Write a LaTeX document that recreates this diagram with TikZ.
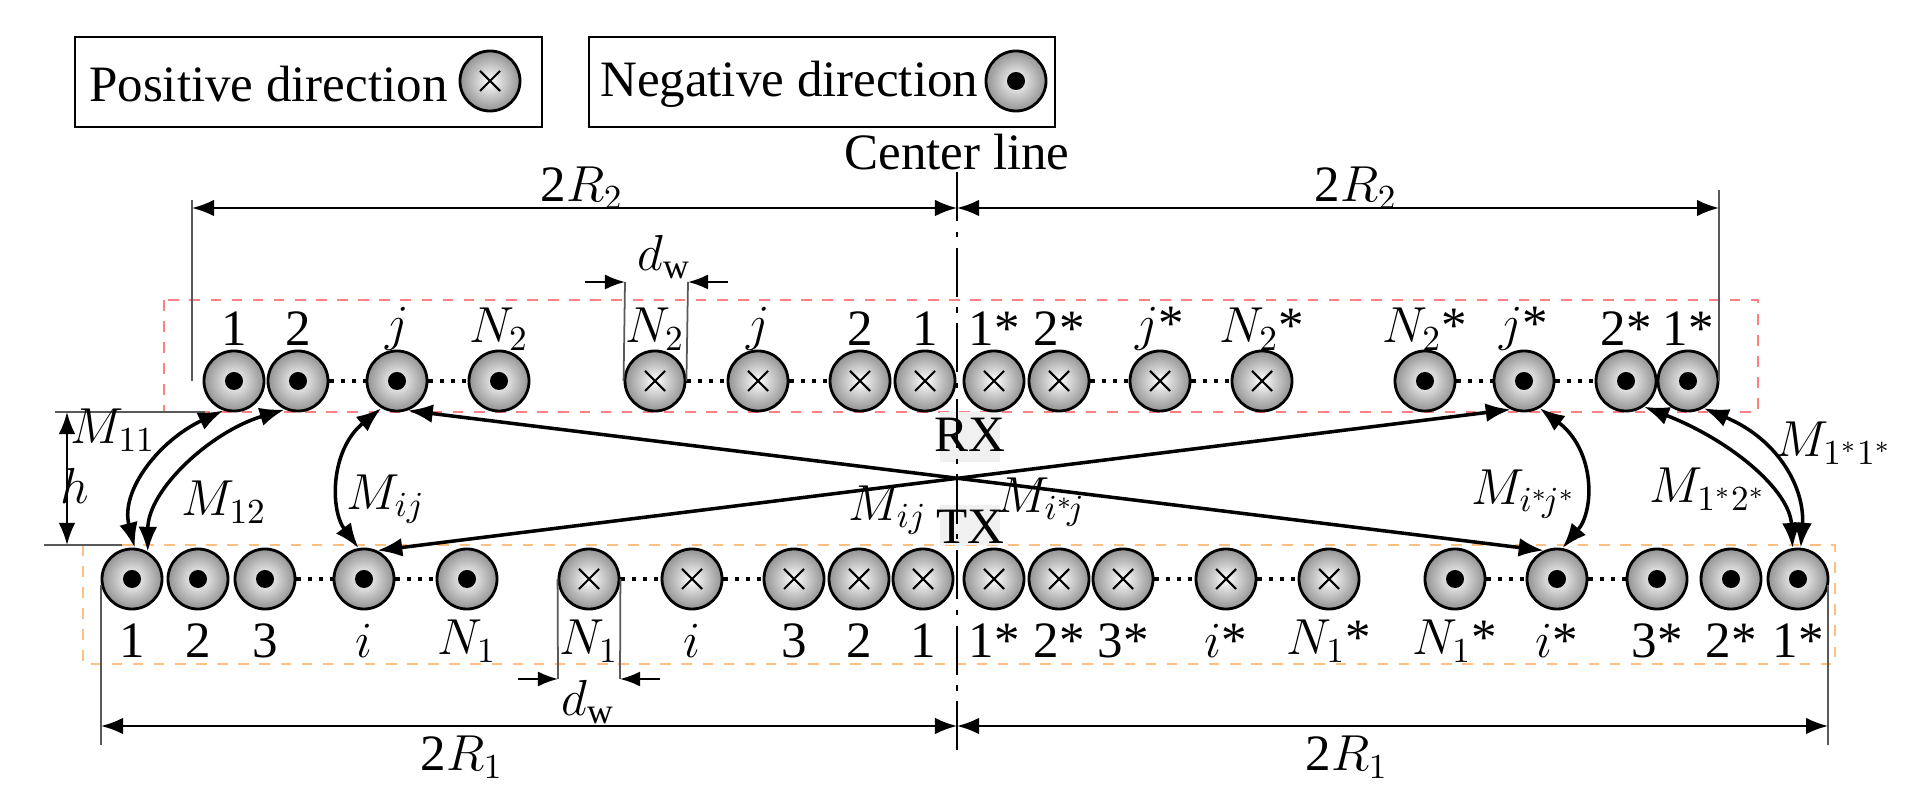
\documentclass[tikz,border=0pt]{standalone}
\usepackage{fontspec}
\setmainfont{Liberation Serif}
\usetikzlibrary{arrows.meta}
\begin{document}
\begin{tikzpicture}[x=0.01cm,y=-0.01cm,font=\rmfamily\fontsize{14.5}{16}\selectfont,
  wire/.style={circle,draw,line width=0.8pt,minimum size=0.6cm,inner sep=0pt,inner color=white,outer color=gray!85},
  wdot/.style={wire,path picture={\fill[black] (path picture bounding box.center) circle (0.9mm);}},
  wcross/.style={wire,path picture={\draw[line width=0.6pt] ([shift={(-1mm,-1mm)}]path picture bounding box.center) -- ([shift={(1mm,1mm)}]path picture bounding box.center) ([shift={(-1mm,1mm)}]path picture bounding box.center) -- ([shift={(1mm,-1mm)}]path picture bounding box.center);}},
  gap/.style={dotted,line width=1.2pt},
  dim/.style={{Latex[length=2.2mm]}-{Latex[length=2.2mm]},line width=0.6pt},
  ext/.style={line width=0.5pt,gray!70!black},
  mut/.style={{Latex[length=2.5mm]}-{Latex[length=2.5mm]},line width=1pt},
  lab/.style={inner sep=1pt}]
\useasboundingbox (0,0) rectangle (1915,807);
% boxes
\draw[dashed,red!50,line width=0.8pt] (164,300) rectangle (1758,412);
\draw[dashed,orange!50,line width=0.6pt] (83,545) rectangle (1835,664);
% RX TX patches
\fill[gray!12] (940,412) rectangle (1000,462);
\fill[gray!12] (940,505) rectangle (1000,545);
% legend
\draw[line width=0.8pt] (75,37) rectangle (542,127);
\node[anchor=west,lab] (pt) at (85,84) {Positive direction};
\node[wcross] (lc1) at (490,81) {};
\draw[line width=0.8pt] (589,37) rectangle (1055,127);
\node[anchor=west,lab] (nt) at (596,84) {Negative direction};
\node[wdot] (lc2) at (1016,81) {};
% center line
\node[lab] (cl) at (957,152) {Center line};
\draw[line width=0.8pt,dash pattern=on 14pt off 3pt on 1.5pt off 3pt] (957,172) -- (957,752);
% top row
\foreach \n/\x/\t/\l in {t1/234/wdot/1, t2/298/wdot/2, t3/397/wdot/$j$, t4/499/wdot/$N_2$,
  t5/655/wcross/$N_2$, t6/758/wcross/$j$, t7/860/wcross/2, t8/925/wcross/1,
  t9/994/wcross/1*, t10/1059/wcross/2*, t11/1160/wcross/$j$*, t12/1262/wcross/$N_2$*,
  t13/1425/wdot/$N_2$*, t14/1524/wdot/$j$*, t15/1626/wdot/2*, t16/1688/wdot/1*}
  {\node[\t] (\n) at (\x,381) {}; \node[lab] at (\x,329) {\l};}
% bottom row
\foreach \n/\x/\t/\l in {b1/132/wdot/1, b2/198/wdot/2, b3/265/wdot/3, b4/364/wdot/$i$, b5/467/wdot/$N_1$,
  b6/589/wcross/$N_1$, b7/692/wcross/$i$, b8/794/wcross/3, b9/859/wcross/2, b10/923/wcross/1,
  b11/994/wcross/1*, b12/1059/wcross/2*, b13/1123/wcross/3*, b14/1226/wcross/$i$*, b15/1329/wcross/$N_1$*,
  b16/1455/wdot/$N_1$*, b17/1557/wdot/$i$*, b18/1657/wdot/3*, b19/1731/wdot/2*, b20/1798/wdot/1*}
  {\node[\t] (\n) at (\x,579) {}; \node[lab] at (\x,641) {\l};}
% dotted gaps
\foreach \a/\b in {t2/t3,t3/t4,t5/t6,t6/t7,t10/t11,t11/t12,t13/t14,t14/t15,
  b3/b4,b4/b5,b6/b7,b7/b8,b13/b14,b14/b15,b16/b17,b17/b18}
  \draw[gap] (\a.east) -- (\b.west);
% dimensions 2R2
\draw[ext] (192,200) -- (192,381);
\draw[ext] (1719,190) -- (1719,381);
\draw[dim] (192,208) -- (957,208);
\draw[dim] (957,208) -- (1719,208);
\node[lab] (r2a) at (582,188) {2$R_2$};
\node[lab] (r2b) at (1356,188) {2$R_2$};
% 2R1
\draw[ext] (101,585) -- (101,745);
\draw[ext] (1828,585) -- (1828,745);
\draw[dim] (101,726) -- (957,726);
\draw[dim] (957,726) -- (1828,726);
\node[lab] (r1a) at (462,757) {2$R_1$};
\node[lab] (r1b) at (1347,757) {2$R_1$};
% dw
\draw[ext] (t5.west) -- (625,282);
\draw[ext] (t5.east) -- (688,282);
\draw[-{Latex[length=2mm]},line width=0.6pt] (585,282) -- (625,282);
\draw[-{Latex[length=2mm]},line width=0.6pt] (728,282) -- (688,282);
\node[lab] (dw1) at (664,257) {$d_\mathrm{w}$};
\draw[ext] (b6.west) -- (558,679);
\draw[ext] (b6.east) -- (620,679);
\draw[-{Latex[length=2mm]},line width=0.6pt] (518,679) -- (558,679);
\draw[-{Latex[length=2mm]},line width=0.6pt] (660,679) -- (620,679);
\node[lab] (dw2) at (588,702) {$d_\mathrm{w}$};
% h
\draw[ext,line width=0.8pt] (55,412) -- (205,412);
\draw[ext,line width=0.8pt] (44,545) -- (122,545);
\draw[dim] (67,412) -- (67,545);
\node[lab] (h) at (75,486) {$h$};
% mutual arrows
\draw[mut] (t1.-110) .. controls (160,440) and (120,490) .. (b1.85);
\draw[mut] (t2.-115) .. controls (210,432) and (148,490) .. (b1.60);
\draw[mut] (t3.-120) .. controls (330,450) and (330,510) .. (b4.100);
\draw[mut] (t14.-60) .. controls (1595,450) and (1595,510) .. (b17.80);
\draw[mut] (t15.-55) .. controls (1730,440) and (1790,490) .. (b20.100);
\draw[mut] (t16.-60) .. controls (1780,440) and (1805,490) .. (b20.85);
\draw[mut] (t3.-70) -- (b17.115);
\draw[mut] (b4.65) -- (t14.-115);
% labels
\node[lab] (m11) at (113,430) {$M_{11}$};
\node[lab] (m12) at (224,502) {$M_{12}$};
\node[lab] (mij) at (386,499) {$M_{ij}$};
\node[lab] (mij2) at (888,510) {$M_{ij}$};
\node[lab] (mi1j) at (1041,502) {$M_{i^*\!j}$};
\node[lab] (mij3) at (1524,494) {$M_{i^*\!j^*}$};
\node[lab] (m12s) at (1708,489) {$M_{1^*2^*}$};
\node[lab] (m11s) at (1834,443) {$M_{1^*1^*}$};
\node[lab] (rx) at (970,435) {RX};
\node[lab] (tx) at (970,527) {TX};
\end{tikzpicture}
\end{document}
